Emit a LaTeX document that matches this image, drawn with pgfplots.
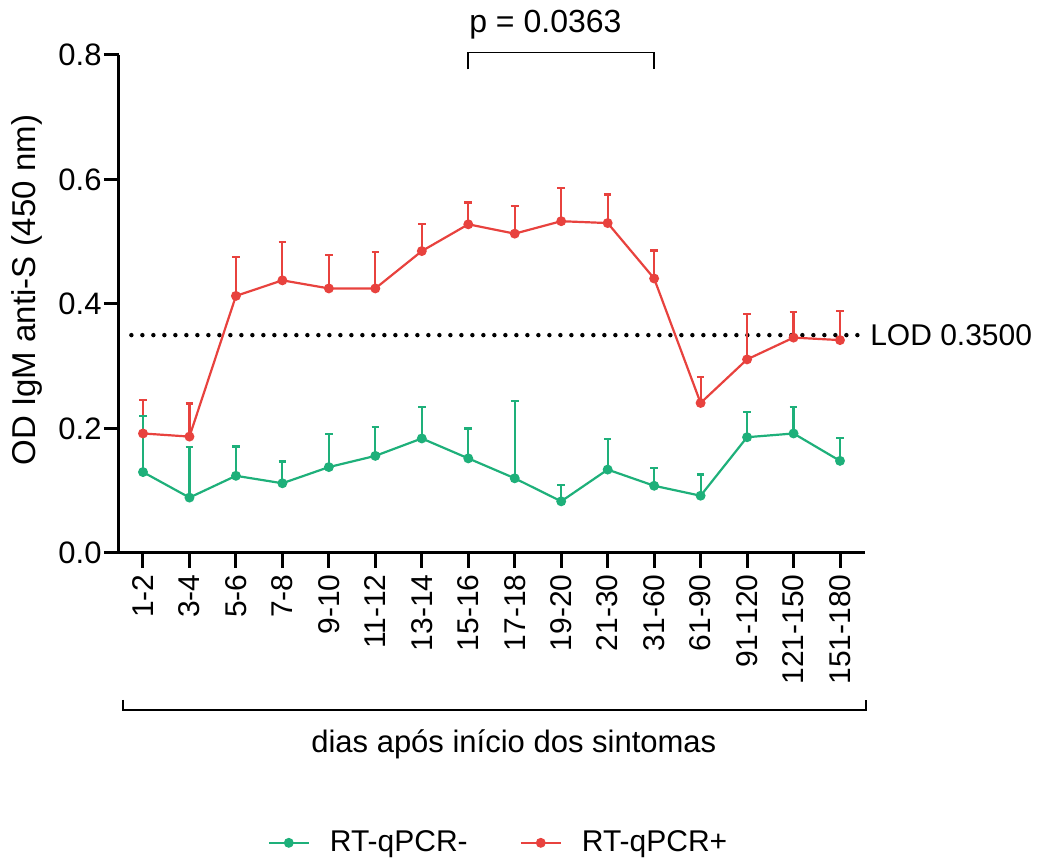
\documentclass[border=0pt]{standalone}
\usepackage{pgfplots}
\pgfplotsset{compat=1.18}
\usepackage{fontspec}
\setmainfont{Liberation Sans}
\definecolor{cgreen}{RGB}{30,176,122}
\definecolor{cred}{RGB}{232,66,62}
\begin{document}
\begin{tikzpicture}
\path[use as bounding box] (-59.5pt,-153.5pt) rectangle (459.5pt,276.5pt);
\begin{axis}[
  scale only axis, width=373pt, height=249pt,
  xmin=-0.5165, xmax=15.538, ymin=0, ymax=0.8,
  axis x line*=bottom, axis y line*=left,
  axis line style={line width=1.5pt, black},
  tick style={line width=1.5pt, black},
  major tick length=7.5pt, tick align=outside,
  xtick={0,...,15},
  xticklabels={1-2,3-4,5-6,7-8,9-10,11-12,13-14,15-16,17-18,19-20,21-30,31-60,61-90,91-120,121-150,151-180},
  xticklabel style={rotate=90, anchor=east, inner sep=3pt, font=\fontsize{15}{17}\selectfont},
  ytick={0,0.2,0.4,0.6,0.8},
  yticklabel style={/pgf/number format/.cd, fixed, fixed zerofill, precision=1, /tikz/.cd, inner sep=1pt, font=\fontsize{15.5}{17}\selectfont},
  /pgf/number format/assume math mode=true,
  ylabel={OD IgM anti-S (450 nm)},
  ylabel style={at={(axis description cs:-0.123,0.528)}, anchor=center, font=\fontsize{16.5}{18}\selectfont},
  clip=false,
  legend columns=2,
  reverse legend,
  legend style={at={(axis description cs:0.51,-0.582)}, anchor=center, draw=none, fill=none,
    font=\fontsize{15}{17}\selectfont,
    /tikz/every odd column/.append style={column sep=8pt},
    /tikz/every even column/.append style={column sep=24pt}},
  legend image code/.code={\draw[#1, mark repeat=2, mark phase=2] plot coordinates {(0pt,0pt) (10pt,0pt) (20pt,0pt)};},
]
% LOD line
\addplot[black, line width=2.2pt, line cap=round, dash pattern=on 0pt off 5.5pt, forget plot] coordinates {(-0.25,0.35) (15.45,0.35)};
\node[anchor=west, font=\fontsize{15}{17}\selectfont] at (axis cs:15.5,0.35) {LOD 0.3500};
% red
\addplot[cred, line width=1.1pt, mark=*, mark size=1.9pt, mark options={solid},
  error bars/.cd, y dir=plus, y explicit,
  error bar style={line width=1.1pt, cred},
  error mark options={line width=1.1pt, cred, mark size=1.9pt, rotate=90}]
  table[x=x, y=y, y error=e] {
x y e
0 0.192 0.054
1 0.187 0.053
2 0.413 0.063
3 0.438 0.062
4 0.425 0.054
5 0.425 0.058
6 0.485 0.044
7 0.528 0.035
8 0.513 0.045
9 0.533 0.053
10 0.530 0.046
11 0.441 0.045
12 0.241 0.042
13 0.311 0.073
14 0.346 0.041
15 0.342 0.047
};
\addlegendentry{RT-qPCR+}
% green
\addplot[cgreen, line width=1.1pt, mark=*, mark size=1.9pt, mark options={solid},
  error bars/.cd, y dir=plus, y explicit,
  error bar style={line width=1.1pt, cgreen},
  error mark options={line width=1.1pt, cgreen, mark size=1.9pt, rotate=90}]
  table[x=x, y=y, y error=e] {
x y e
0 0.130 0.090
1 0.089 0.081
2 0.124 0.047
3 0.112 0.035
4 0.138 0.053
5 0.156 0.047
6 0.184 0.051
7 0.152 0.048
8 0.120 0.124
9 0.083 0.026
10 0.134 0.049
11 0.108 0.029
12 0.092 0.034
13 0.186 0.040
14 0.192 0.042
15 0.148 0.037
};
\addlegendentry{RT-qPCR-}
% p-value bracket
\draw[black, line width=0.8pt] (axis cs:7,0.777) -- (axis cs:7,0.804) -- (axis cs:11,0.804) -- (axis cs:11,0.777);
\node[font=\fontsize{16}{18}\selectfont] at (axis cs:8.66,0.849) {p = 0.0363};
% x bracket
\draw[black, line width=0.8pt] (axis cs:-0.43,-0.2358) -- (axis cs:-0.43,-0.2519) -- (axis cs:15.56,-0.2519) -- (axis cs:15.56,-0.2358);
\node[font=\fontsize{15.5}{17}\selectfont] at (axis cs:7.98,-0.308) {dias após início dos sintomas};
\end{axis}
\end{tikzpicture}
\end{document}
